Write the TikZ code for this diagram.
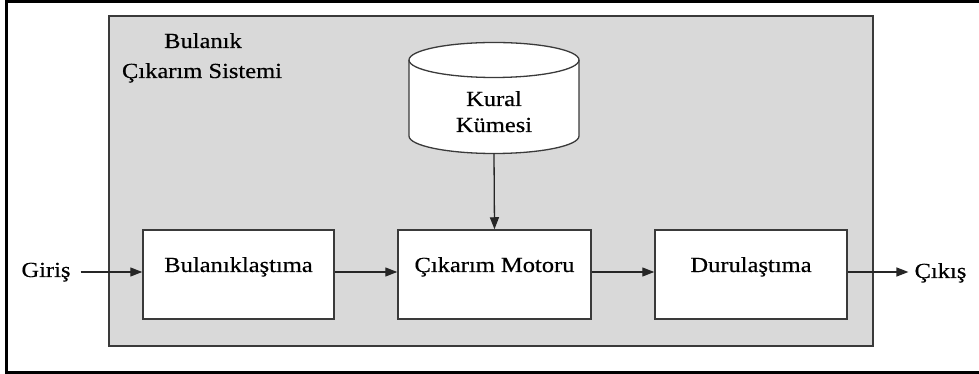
\documentclass[tikz,border=0pt]{standalone}
\usepackage{fontspec}
\setmainfont[FakeStretch=1.14,FakeBold=0.4]{Liberation Serif}
\usetikzlibrary{arrows.meta}
\definecolor{panel}{HTML}{D9D9D9}
\definecolor{boxline}{HTML}{3A3A3A}
\begin{document}
\begin{tikzpicture}[x=1pt,y=1pt,
  lbl/.style={font=\fontsize{21.5}{25}\selectfont, inner sep=0pt},
  block/.style={draw=boxline, line width=1.5pt, fill=white, inner sep=0pt,
    text height=42pt, text depth=47pt, font=\fontsize{21.5}{25}\selectfont},
  flow/.style={draw=black!85, line width=1.3pt, -{Triangle[length=12pt,width=9pt]}},
]
\useasboundingbox (0,0) rectangle (979,374);
% outer frame (right side runs off the page)
\begin{scope}
  \clip (0,0) rectangle (979,374);
  \draw[line width=3pt] (6.8,1.5) rectangle (990,372.8);
\end{scope}

% inference system panel
\node (fis) [draw=boxline, fill=panel, line width=1.8pt, inner sep=0pt,
  minimum width=764, minimum height=330, anchor=south west] at (108,27) {};
\node[lbl, anchor=base] (fistitleA) at (203,326) {Bulanık};
\node[lbl, anchor=base] (fistitleB) at (202,296) {Çıkarım Sistemi};

% rule base cylinder
\node (kural) [inner sep=0pt, minimum width=170, minimum height=111, anchor=south] at (494,220.5) {};
\draw[draw=boxline, line width=1.3pt, fill=white]
  (409,314) -- (409,238) arc[start angle=180, end angle=360, x radius=85, y radius=17.5]
  -- (579,314) arc[start angle=0, end angle=180, x radius=85, y radius=17.5] -- cycle;
\draw[draw=boxline, line width=1.3pt]
  (409,314) arc[start angle=180, end angle=360, x radius=85, y radius=17.5];
\node[lbl, anchor=base] (kuralA) at (494,268) {Kural};
\node[lbl, anchor=base] (kuralB) at (494,242) {Kümesi};

% processing blocks
\node[block, anchor=base, minimum width=191] (bul) at (238.5,102) {Bulanıklaştıma};
\node[block, anchor=base, minimum width=193] (mot) at (494.5,102) {Çıkarım Motoru};
\node[block, anchor=base, minimum width=192] (dur) at (751,102) {Durulaştıma};

% input / output labels
\node[lbl, anchor=base, inner xsep=10pt] (giris) at (46,97) {Giriş};
\node[lbl, anchor=base, inner xsep=6pt] (cikis) at (940.5,96) {Çıkış};

% connectors
\draw[flow] (kural.south) -- (mot.north);
\draw[flow] (giris.east |- bul.base west) -- (bul.base west);
\draw[flow] (bul.base east) -- (mot.base west);
\draw[flow] (mot.base east) -- (dur.base west);
\draw[flow] (dur.base east) -- (cikis.west |- dur.base east);
\end{tikzpicture}
\end{document}
